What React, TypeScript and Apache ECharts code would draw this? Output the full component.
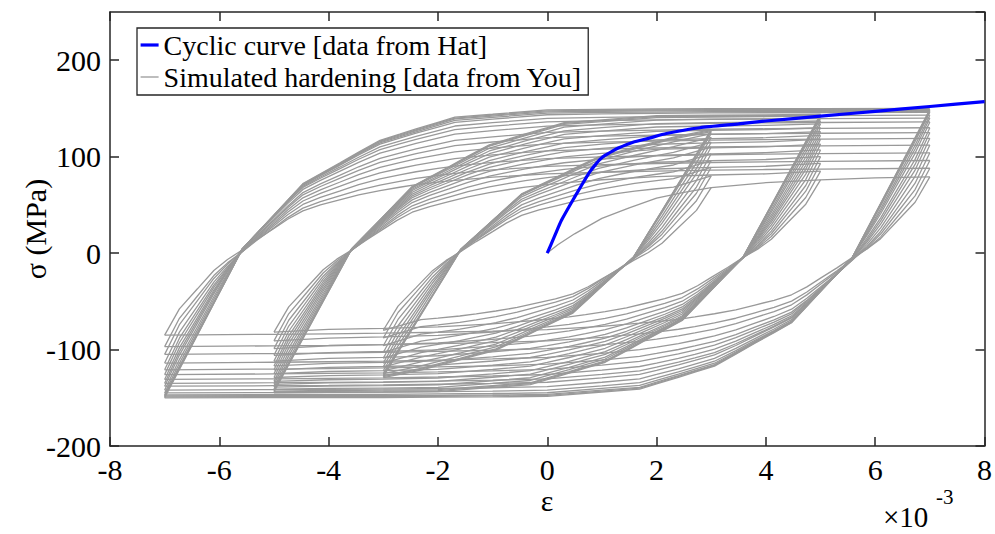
import React, { useEffect, useRef } from "react";
import * as echarts from "echarts";

// ---- data (strain in 1e-3, stress in MPa) ----
const cyclicStrain = [0, 0.13, 0.26, 0.5, 0.72, 0.8, 0.9, 0.96, 1.05, 1.2, 1.3, 1.57, 1.85, 2.18, 2.79, 3.5, 4, 5, 6, 7, 8];
const cyclicStress = [0, 17, 34, 58, 79, 86, 93, 97, 101, 106, 109, 115, 119, 124, 130, 134, 137, 142, 147, 152, 157];

const initStrain = [0, 0.2, 0.5, 1, 1.5, 2, 2.5, 3, 4, 5, 6, 7];
const initStress = [0, 9, 20, 36, 47, 57, 63, 68, 73, 76, 78, 79];

// reversal stresses (peak/valley) for each strain amplitude, in order
const amp3Peaks = [68, -80, 80, -88, 89, -96, 96, -103, 103, -109, 110, -114, 115, -118, 120, -122, 124, -125, 126, -127, 127, -128, 128, -129];
const amp5Peaks = [76, -82, 85, -91, 93, -99, 100, -106, 107, -112, 113, -117, 118, -121, 122, -125, 126, -129, 130, -133, 134, -136, 137, -139, 140, -141, 142, -143, 143, -144, 144, -145];
const amp7Peaks = [79, -85, 88, -97, 96, -105, 104, -114, 112, -121, 119, -126, 125, -131, 130, -135, 136, -138, 140, -142, 143, -145, 146, -147, 147, -148, 148, -149, 149, -150, 150];
const amplitudes = [3, 5, 7];

// branch shape: strain distance from reversal vs fraction of stress range
const branchStrainFromReversal = [0, 0.27, 0.6, 0.9, 1.15, 1.42, 1.7, 2.0, 2.25, 2.53, 2.85, 3.2, 3.55, 3.94, 4.3, 4.6, 5.0, 5.31, 6, 7, 8, 9, 10, 11, 12, 14];
const branchFracFirstCycle = [0, 0.16, 0.28, 0.39, 0.455, 0.51, 0.575, 0.64, 0.695, 0.745, 0.78, 0.81, 0.84, 0.865, 0.885, 0.9, 0.915, 0.925, 0.945, 0.965, 0.975, 0.982, 0.988, 0.992, 0.995, 1];
const branchFracLastCycle = [0, 0.098, 0.217, 0.326, 0.416, 0.514, 0.571, 0.632, 0.683, 0.74, 0.774, 0.811, 0.849, 0.89, 0.911, 0.929, 0.952, 0.97, 0.98, 0.995, 0.997, 0.998, 0.999, 0.9993, 0.9996, 1];

const xTicks = { min: -8, max: 8, interval: 2 };
const yTicks = { min: -200, max: 250, interval: 100 };

const CYCLIC_NAME = "Cyclic curve [data from Hat]";
const SIM_NAME = "Simulated hardening [data from You]";

const serif = "'Liberation Serif', 'Times New Roman', serif";
const axisColor = "#262626";

function buildBranches(A: number, peaks: number[]): number[][][] {
  const out: number[][][] = [];
  const n = peaks.length - 1;
  for (let k = 0; k < n; k++) {
    const s0 = peaks[k];
    const s1 = peaks[k + 1];
    const dir = s0 > 0 ? -1 : 1;
    const start = dir > 0 ? -A : A;
    const w = n > 1 ? Math.min(1, k / (n - 6)) : 1;
    const pts: number[][] = [];
    for (let j = 0; j < branchStrainFromReversal.length; j++) {
      const de = branchStrainFromReversal[j];
      if (de >= 2 * A) break;
      const f = branchFracFirstCycle[j] * (1 - w) + branchFracLastCycle[j] * w;
      pts.push([start + dir * de, s0 + f * (s1 - s0)]);
    }
    pts.push([start + dir * 2 * A, s1]);
    out.push(pts);
  }
  return out;
}

export default function App() {
  const ref = useRef<HTMLDivElement>(null);
  useEffect(() => {
    if (!ref.current) return;
    const chart = echarts.init(ref.current, undefined, { renderer: "svg" });
    const peaksByAmp = [amp3Peaks, amp5Peaks, amp7Peaks];
    const series: any[] = [];
    const grayLine = (data: number[][]) => ({
      type: "line",
      name: SIM_NAME,
      data,
      symbol: "none",
      showSymbol: false,
      silent: true,
      lineStyle: { color: "#999999", width: 1.3 },
      itemStyle: { color: "#999999" },
      z: 2,
    });
    series.push(grayLine(initStrain.map((e, i) => [e, initStress[i]])));
    amplitudes.forEach((A, ai) => {
      buildBranches(A, peaksByAmp[ai]).forEach((b) => series.push(grayLine(b)));
    });
    series.push({
      type: "line",
      name: CYCLIC_NAME,
      data: cyclicStrain.map((e, i) => [e, cyclicStress[i]]),
      symbol: "none",
      showSymbol: false,
      smooth: 0.2,
      silent: true,
      lineStyle: { color: "#0000ff", width: 3.2 },
      itemStyle: { color: "#0000ff" },
      z: 5,
    });

    const axisLine = { show: true, onZero: false, lineStyle: { color: axisColor, width: 1.5 } };
    const axisTick = { show: true, inside: true, length: 9, lineStyle: { color: axisColor, width: 1.5 } };
    const label = { fontFamily: serif, fontSize: 30, lineHeight: 30, color: "#000" };

    chart.setOption({
      animation: false,
      backgroundColor: "#ffffff",
      grid: { left: 110, top: 12, width: 875, height: 434, containLabel: false },
      xAxis: [
        {
          type: "value", ...xTicks, position: "bottom",
          axisLine, axisTick, splitLine: { show: false },
          axisLabel: { ...label, margin: 8 },
        },
        {
          type: "value", ...xTicks, position: "top",
          axisLine, axisTick, splitLine: { show: false },
          axisLabel: { show: false },
        },
      ],
      yAxis: [
        {
          type: "value", ...yTicks, position: "left",
          axisLine, axisTick, splitLine: { show: false },
          axisLabel: { ...label, margin: 9, showMaxLabel: false },
        },
        {
          type: "value", ...yTicks, position: "right",
          axisLine, axisTick, splitLine: { show: false },
          axisLabel: { show: false },
        },
      ],
      legend: {
        left: 137,
        top: 28,
        orient: "vertical",
        data: [
          { name: CYCLIC_NAME, itemStyle: { opacity: 0 }, lineStyle: { color: "#0000ff", width: 3.2 } },
          { name: SIM_NAME, itemStyle: { opacity: 0 }, lineStyle: { color: "#999999", width: 1.3 } },
        ],
        itemStyle: { opacity: 0, borderWidth: 0 },
        backgroundColor: "#ffffff",
        borderColor: axisColor,
        borderWidth: 1.3,
        borderRadius: 0,
        padding: [1, 6, 2, 2],
        itemGap: 0,
        itemWidth: 18,
        itemHeight: 10,
        textStyle: { fontFamily: serif, fontSize: 28, color: "#000", lineHeight: 32 },
        selectedMode: false,
      },
      graphic: [
        {
          type: "text", x: 547, y: 500,
          style: { text: "ε", font: `30px ${serif}`, fill: "#000", textAlign: "center", textVerticalAlign: "middle" },
        },
        {
          type: "text", x: 35, y: 229, rotation: Math.PI / 2,
          style: { text: "σ (MPa)", font: `30px ${serif}`, fill: "#000", textAlign: "center", textVerticalAlign: "middle" },
        },
        {
          type: "text", x: 883, y: 517,
          style: { text: "×10", font: `29px ${serif}`, fill: "#000", textAlign: "left", textVerticalAlign: "middle" },
        },
        {
          type: "text", x: 936, y: 497,
          style: { text: "-3", font: `21px ${serif}`, fill: "#000", textAlign: "left", textVerticalAlign: "middle" },
        },
      ],
      series,
    });
    return () => chart.dispose();
  }, []);
  return (
    <div
      ref={ref}
      style={{ position: "fixed", left: 0, top: 0, width: 995, height: 534, background: "#fff" }}
    />
  );
}
